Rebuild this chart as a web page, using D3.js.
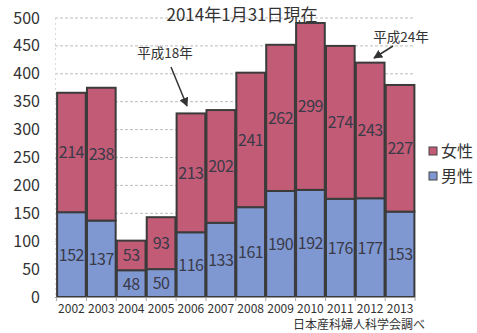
<!DOCTYPE html>
<html><head><meta charset="utf-8">
<script src="https://cdn.jsdelivr.net/npm/d3@7"></script>
<style>body{margin:0;background:#fff}svg{display:block}text{font-family:"Noto Sans CJK JP","Noto Sans",sans-serif}</style>
</head><body>
<script>
const years = ["2002","2003","2004","2005","2006","2007","2008","2009","2010","2011","2012","2013"];
const male = [152,137,48,50,116,133,161,190,192,176,177,153];
const female = [214,238,53,93,213,202,241,262,299,274,243,227];
const yTicks = [0,50,100,150,200,250,300,350,400,450,500];
const seriesNames = ["女性","男性"];
const title = "2014年1月31日現在";
const source = "日本産科婦人科学会調べ";

const W = 477, H = 333;
const svg = d3.select("body").append("svg").attr("width", W).attr("height", H);
const x = d3.scaleBand().domain(years).range([56.5, 415]).paddingInner(0.04).paddingOuter(0.02);
const y = d3.scaleLinear().domain([0, 500]).range([297, 18]);
const colF = "#c25b75", colM = "#7f98d2", stroke = "#3b3b3b", txt = "#3a3a48";

// grid
svg.append("g").selectAll("line").data(yTicks.slice(1)).join("line")
  .attr("x1", 55).attr("x2", 415).attr("y1", d => y(d)).attr("y2", d => y(d))
  .attr("stroke", "#bdbdbd").attr("stroke-dasharray", "3,2").attr("stroke-width", 1);
svg.append("line").attr("x1", 55.5).attr("x2", 55.5).attr("y1", y(500)).attr("y2", y(0))
  .attr("stroke", "#d8d8d8").attr("stroke-dasharray", "2,3");

// y axis labels
svg.append("g").selectAll("text").data(yTicks).join("text")
  .attr("x", 40).attr("y", d => y(d) + 5.5).attr("text-anchor", "end")
  .attr("font-size", 16).attr("fill", "#333").text(d => d);

// bars
const rows = years.map((yr, i) => ({yr, m: male[i], f: female[i]}));
const g = svg.append("g");
g.selectAll("rect.m").data(rows).join("rect").attr("class", "m")
  .attr("x", d => x(d.yr)).attr("width", x.bandwidth())
  .attr("y", d => y(d.m)).attr("height", d => y(0) - y(d.m))
  .attr("fill", colM).attr("stroke", stroke).attr("stroke-width", 2);
g.selectAll("rect.f").data(rows).join("rect").attr("class", "f")
  .attr("x", d => x(d.yr)).attr("width", x.bandwidth())
  .attr("y", d => y(d.m + d.f)).attr("height", d => y(d.m) - y(d.m + d.f))
  .attr("fill", colF).attr("stroke", stroke).attr("stroke-width", 2);

// value labels
g.selectAll("text.m").data(rows).join("text").attr("class", "m")
  .attr("x", d => x(d.yr) + x.bandwidth() / 2).attr("y", d => y(d.m / 2) + 6)
  .attr("text-anchor", "middle").attr("font-size", 16).attr("letter-spacing", -0.5).attr("fill", txt).text(d => d.m);
g.selectAll("text.f").data(rows).join("text").attr("class", "f")
  .attr("x", d => x(d.yr) + x.bandwidth() / 2).attr("y", d => y(d.m + d.f / 2) + 6)
  .attr("text-anchor", "middle").attr("font-size", 16).attr("letter-spacing", -0.5).attr("fill", txt).text(d => d.f);

// x axis
svg.append("line").attr("x1", 55).attr("x2", 415).attr("y1", 297.5).attr("y2", 297.5).attr("stroke", "#999");
svg.append("g").selectAll("line").data(years.concat(["end"])).join("line")
  .attr("x1", (d, i) => i < years.length ? x(d) - 0.5 : 415).attr("x2", (d, i) => i < years.length ? x(d) - 0.5 : 415)
  .attr("y1", 297).attr("y2", 301).attr("stroke", "#aaa");
svg.append("g").selectAll("text").data(years).join("text")
  .attr("x", d => x(d) + x.bandwidth() / 2).attr("y", 313)
  .attr("text-anchor", "middle").attr("font-size", 12).attr("font-family", "'Liberation Sans', Arial, sans-serif")
  .attr("fill", "#333").text(d => d);

// title
svg.append("text").attr("x", 242).attr("y", 21).attr("text-anchor", "middle")
  .attr("font-size", 17).attr("fill", "#333").text(title);
// source
svg.append("text").attr("x", 425).attr("y", 329).attr("text-anchor", "end")
  .attr("font-size", 12).attr("fill", "#333").text(source);

// annotations
const defs = svg.append("defs");
defs.append("marker").attr("id", "ah").attr("viewBox", "0 0 10 10").attr("refX", 9).attr("refY", 5)
  .attr("markerWidth", 6).attr("markerHeight", 6).attr("orient", "auto")
  .append("path").attr("d", "M0,0L10,5L0,10z").attr("fill", "#333");
svg.append("text").attr("x", 165).attr("y", 58).attr("text-anchor", "middle").attr("font-size", 13.5).attr("fill", "#333").text("平成18年");
svg.append("line").attr("x1", 171).attr("y1", 67).attr("x2", 187).attr("y2", 106)
  .attr("stroke", "#333").attr("stroke-width", 1.5).attr("marker-end", "url(#ah)");
svg.append("text").attr("x", 401).attr("y", 42).attr("text-anchor", "middle").attr("font-size", 13.5).attr("fill", "#333").text("平成24年");
svg.append("line").attr("x1", 393).attr("y1", 46).attr("x2", 374).attr("y2", 58)
  .attr("stroke", "#333").attr("stroke-width", 1.5).attr("marker-end", "url(#ah)");

// legend
const leg = svg.append("g");
[[seriesNames[0], colF, 151], [seriesNames[1], colM, 176]].forEach(([n, c, cy]) => {
  leg.append("rect").attr("x", 429).attr("y", cy - 4).attr("width", 8).attr("height", 8)
    .attr("fill", c).attr("stroke", "#444").attr("stroke-width", 1);
  leg.append("text").attr("x", 441).attr("y", cy + 6).attr("font-size", 16).attr("fill", "#333").text(n);
});
</script>
</body></html>
